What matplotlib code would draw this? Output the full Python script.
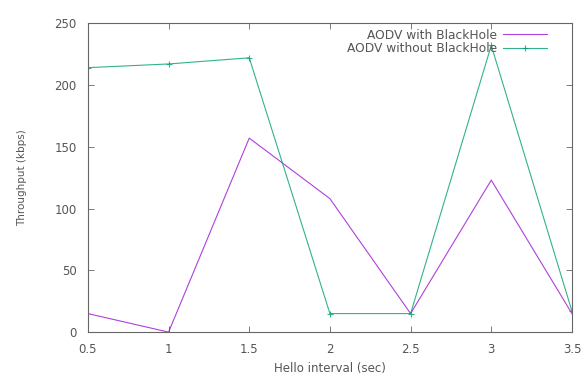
import matplotlib
matplotlib.use("Agg")
import matplotlib.pyplot as plt

# data
hello = [0.5, 1, 1.5, 2, 2.5, 3, 3.5]
with_bh = [15, 0, 157, 108, 15, 123, 15]
without_bh = [214, 217, 222, 15, 15, 232, 17]

plt.rcParams['font.family'] = ['DejaVu Sans']
txt = '#555555'

fig = plt.figure(figsize=(5.86, 3.74), dpi=100)
ax = fig.add_axes([0.150, 0.112, 0.826, 0.826])

ax.plot(hello, with_bh, color='#9400d3', lw=0.8, alpha=0.75,
        label='AODV with BlackHole')
ax.plot(hello, without_bh, color='#009e73', lw=0.8, alpha=0.8, marker='+',
        ms=4, mew=0.8, label='AODV without BlackHole')

ax.set_xlim(0.5, 3.5)
ax.set_ylim(0, 250)
ax.set_xticks(hello)
ax.set_xticklabels(['0.5', '1', '1.5', '2', '2.5', '3', '3.5'])
ax.set_yticks([0, 50, 100, 150, 200, 250])
ax.tick_params(direction='in', top=True, right=True, length=4, width=0.6,
               colors='#666666', labelcolor=txt, labelsize=8.5)
ax.tick_params(axis='x', pad=8)
ax.tick_params(axis='y', pad=8)
for s in ax.spines.values():
    s.set_linewidth(0.8)
    s.set_color('#666666')

ax.set_xlabel('Hello interval (sec)', fontsize=8.5, color=txt, labelpad=4)
ax.set_ylabel('Throughput (kbps)', fontsize=7.5, color=txt, labelpad=20)

ax.legend(loc='upper right', bbox_to_anchor=(0.96, 1.0), frameon=False,
          markerfirst=False, fontsize=8.8, handlelength=3.6, handletextpad=0.5,
          labelspacing=0.05, borderaxespad=0.05, labelcolor=txt)

fig.savefig('out.png', dpi=100)
